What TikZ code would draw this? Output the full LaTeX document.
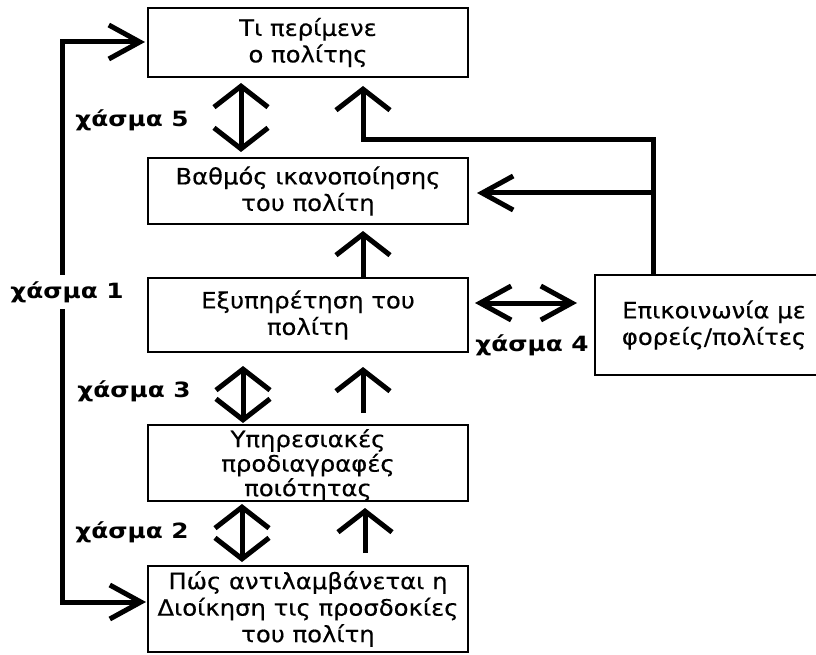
\documentclass[tikz,border=0pt]{standalone}
\usepackage{fontspec}
\setmainfont{DejaVu Sans}
\newfontfamily\boxfont[FakeStretch=1.08,FakeBold=0.4]{DejaVu Sans}
\newfontfamily\labfont[FakeStretch=1.18]{DejaVu Sans Bold}
\usetikzlibrary{arrows.meta}
\tikzset{
  box/.style={draw, line width=2.5pt, minimum width=320pt, align=center, inner sep=0pt,
    font=\boxfont\fontsize{22.5}{26.5}\selectfont},
  lab/.style={font=\labfont\fontsize{21}{24}\selectfont, inner sep=1pt},
  shaft/.style={line width=5pt},
  vtip/.tip={Straight Barb[length=21pt,width=54pt]},
  htip/.tip={Straight Barb[length=31pt,width=34pt]},
}
\begin{document}
\begin{tikzpicture}[x=1pt,y=-1pt]
\useasboundingbox (0,0) rectangle (816,655);
\clip (0,0) rectangle (816,655);
% boxes
\node[box, minimum height=69pt] (b1) at (308,42.5) {Τι περίμενε\\ο πολίτης};
\node[box, minimum height=66pt] (b2) at (308,191) {Βαθμός ικανοποίησης\\του πολίτη};
\node[box, minimum height=74pt] (b3) at (308,315) {Εξυπηρέτηση του\\πολίτη};
\node[box, minimum height=76pt] (b4) at (308,463) {};
\node[font=\boxfont\fontsize{22.5}{24.5}\selectfont, align=center, inner sep=0pt] (t4) at (308,465) {Υπηρεσιακές\\προδιαγραφές\\ποιότητας};
\node[box, minimum height=86pt] (b5) at (308,609) {Πώς αντιλαμβάνεται η\\Διοίκηση τις προσδοκίες\\του πολίτη};
\node[box, minimum width=238pt, minimum height=100pt] (b6) at (714,325) {Επικοινωνία με\\φορείς/πολίτες};
% coordinates
\coordinate (g5a) at (241,83);  \coordinate (g5b) at (241,152);
\coordinate (g3a) at (243,366); \coordinate (g3b) at (243,423);
\coordinate (g2a) at (242,504); \coordinate (g2b) at (242,562);
\coordinate (u2a) at (363,278); \coordinate (u2b) at (363,231);
\coordinate (u3a) at (363,413); \coordinate (u3b) at (363,367);
\coordinate (u4a) at (365,553); \coordinate (u4b) at (365,508);
\coordinate (h4a) at (475,303); \coordinate (h4b) at (577,303);
\coordinate (a1) at (145,42);   \coordinate (lt) at (62,42);
\coordinate (lb) at (62,602);   \coordinate (a5) at (146,602);
\coordinate (f0) at (653,275);  \coordinate (f1) at (653,140);
\coordinate (f2) at (363,140);  \coordinate (f3) at (363,86);
\coordinate (fb) at (653,193);  \coordinate (fa) at (477,193);
% double arrows
\draw[shaft, {vtip}-{vtip}] (g5a) -- (g5b);
\draw[shaft, {vtip}-{vtip}] (g3a) -- (g3b);
\draw[shaft, {vtip}-{vtip}] (g2a) -- (g2b);
\draw[shaft, {htip}-{htip}] (h4a) -- (h4b);
% up arrows
\draw[shaft, -{vtip}] (u2a) -- (u2b);
\draw[shaft, -{vtip}] (u3a) -- (u3b);
\draw[shaft, -{vtip}] (u4a) -- (u4b);
% left loop
\draw[shaft, {htip}-{htip}] (a1) -- (lt) -- (lb) -- (a5);
% feedback
\draw[shaft, -{vtip}] (f0) -- (f1) -- (f2) -- (f3);
\draw[shaft, -{htip}] (fb) -- (fa);
% labels
\node[lab, fill=white, inner ysep=6pt] (c1) at (67,292) {χάσμα 1};
\node[lab] (c5) at (132,120) {χάσμα 5};
\node[lab] (c3) at (134,391) {χάσμα 3};
\node[lab] (c2) at (132,532) {χάσμα 2};
\node[lab] (c4) at (532,345) {χάσμα 4};
\end{tikzpicture}
\end{document}
